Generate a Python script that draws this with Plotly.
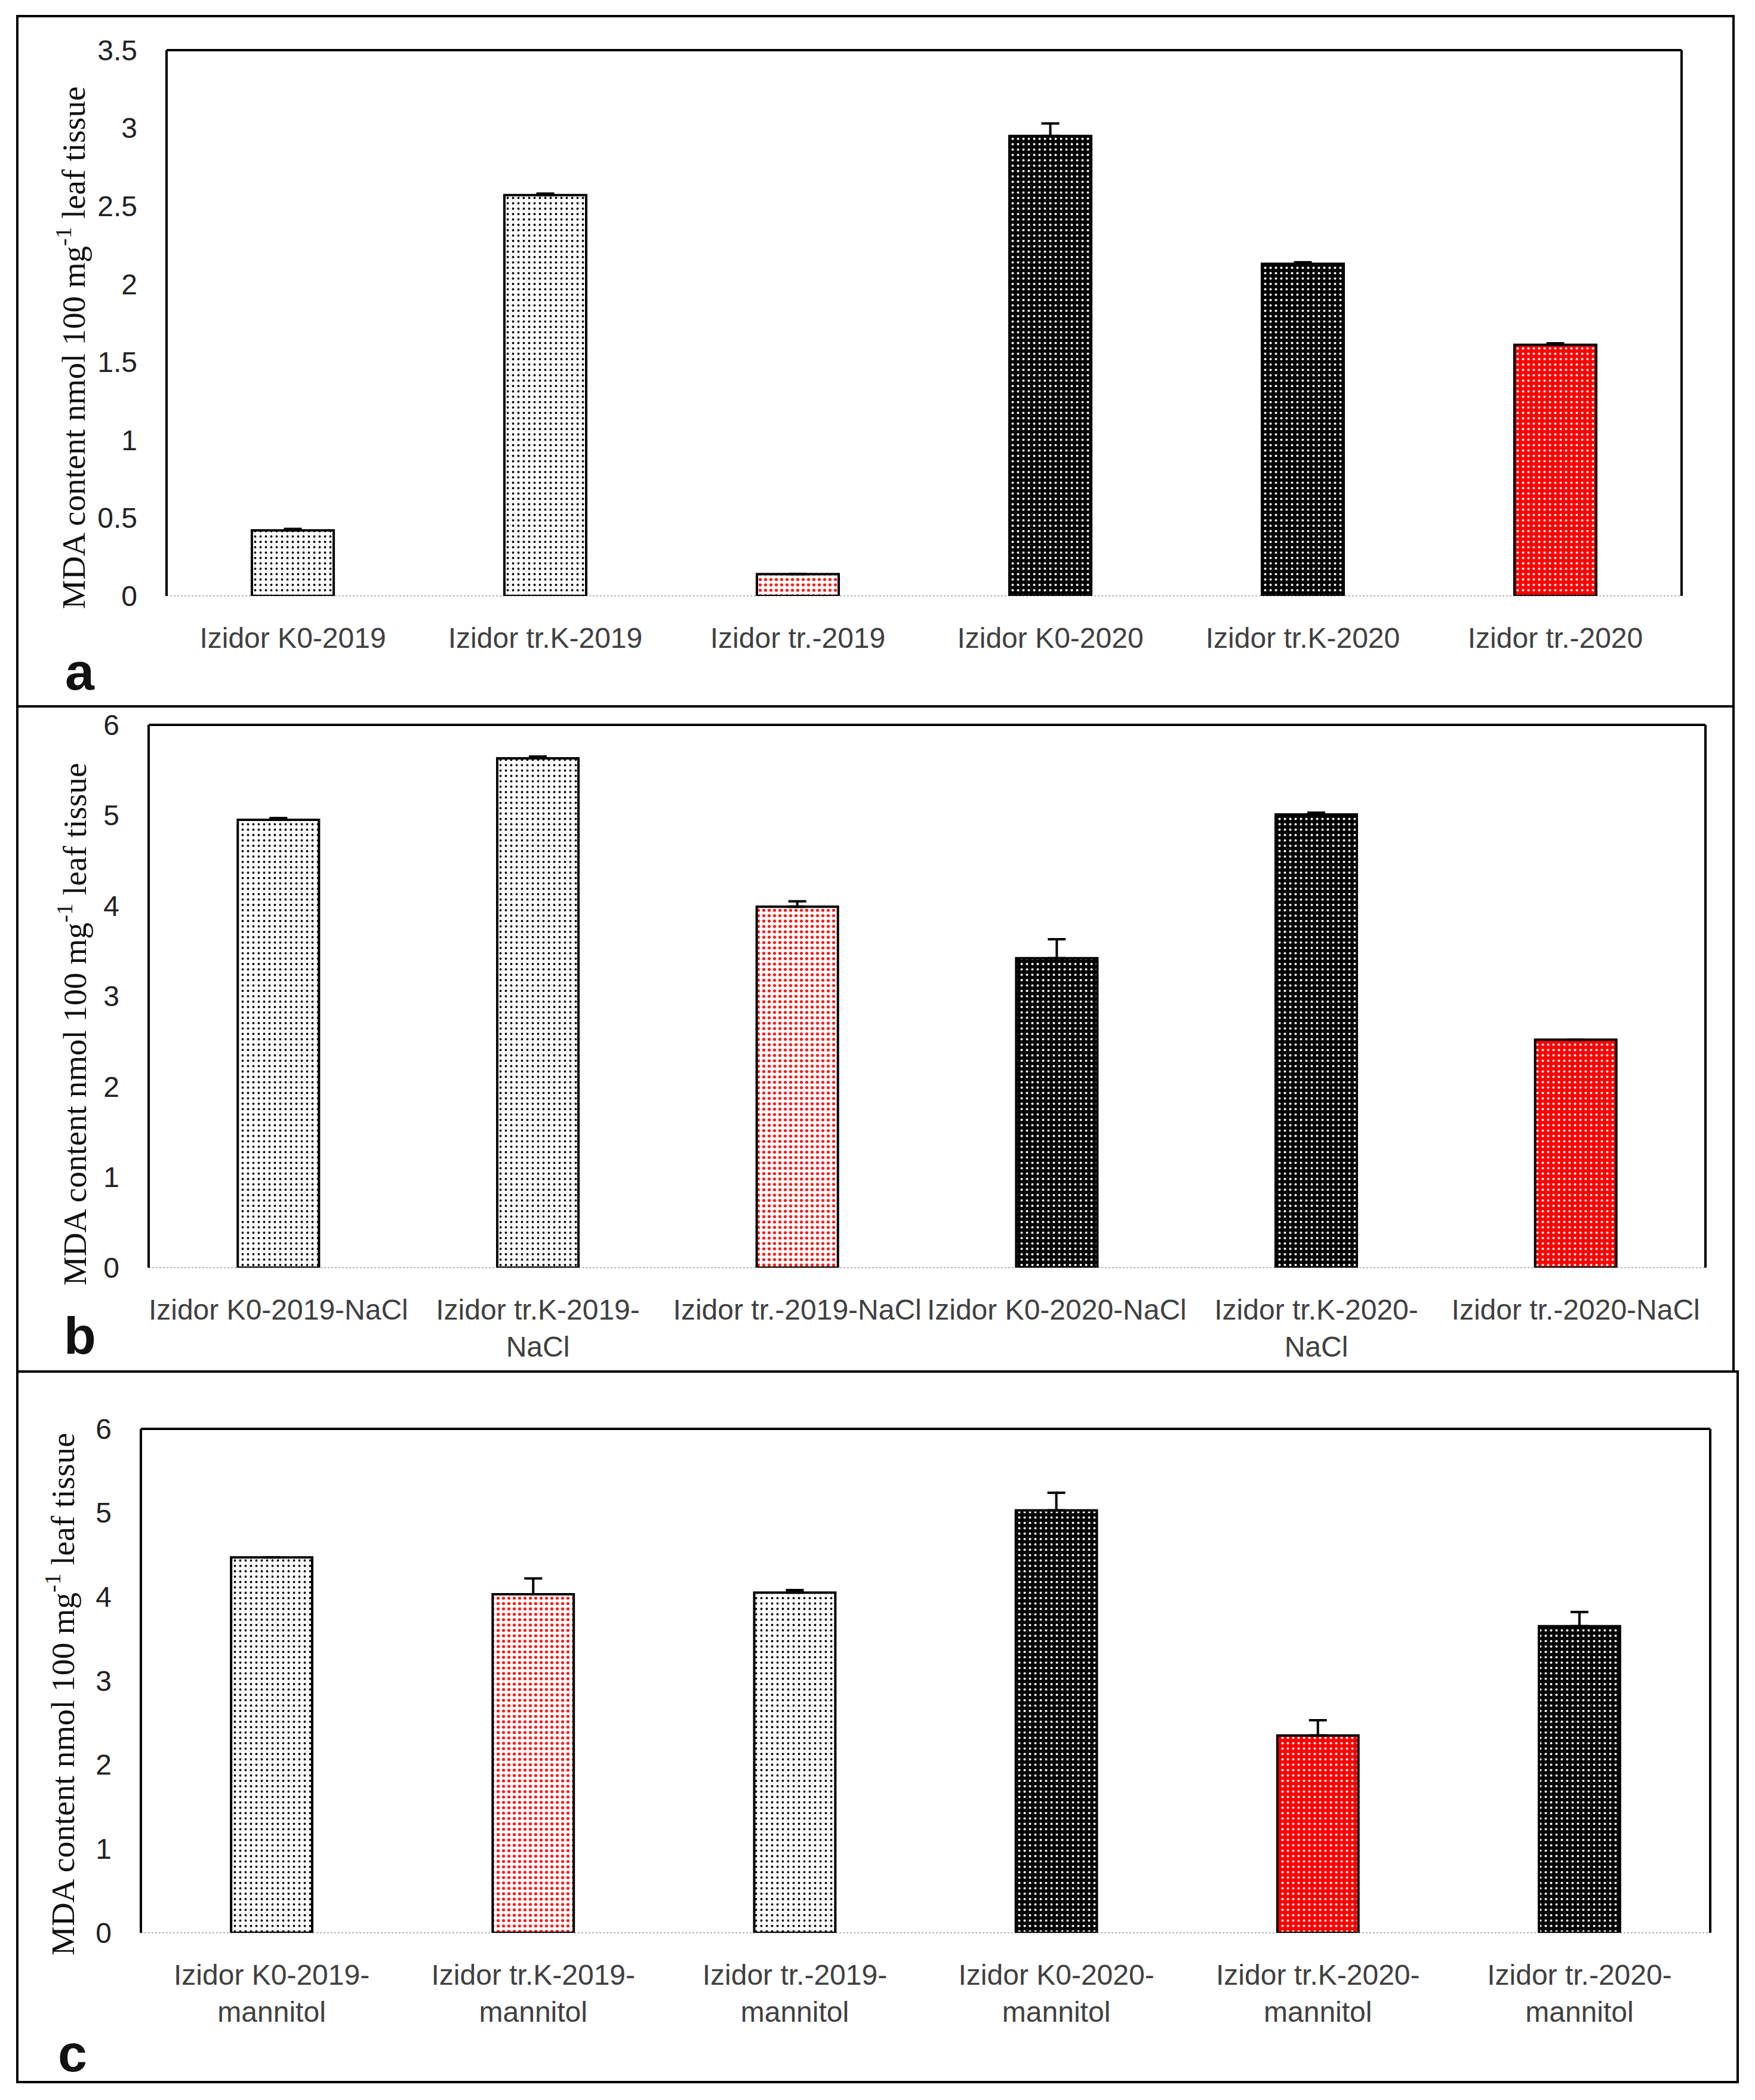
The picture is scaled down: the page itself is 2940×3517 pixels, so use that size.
import plotly.graph_objects as go

W, H = 2940, 3517

# ---------------- data ----------------
cats_a = ["Izidor K0-2019", "Izidor tr.K-2019", "Izidor tr.-2019",
          "Izidor K0-2020", "Izidor tr.K-2020", "Izidor tr.-2020"]
vals_a = [0.42, 2.57, 0.14, 2.95, 2.13, 1.61]
err_a = [0.01, 0.01, 0.0, 0.08, 0.01, 0.01]
fill_a = ["L", "L", "LR", "D", "D", "DR"]

cats_b = ["Izidor K0-2019-NaCl", "Izidor tr.K-2019-<br>NaCl", "Izidor tr.-2019-NaCl",
          "Izidor K0-2020-NaCl", "Izidor tr.K-2020-<br>NaCl", "Izidor tr.-2020-NaCl"]
vals_b = [4.95, 5.63, 3.99, 3.42, 5.01, 2.52]
err_b = [0.02, 0.02, 0.06, 0.21, 0.02, 0.0]
fill_b = ["L", "L", "LR", "D", "D", "DR"]

cats_c = ["Izidor K0-2019-<br>mannitol", "Izidor tr.K-2019-<br>mannitol", "Izidor tr.-2019-<br>mannitol",
          "Izidor K0-2020-<br>mannitol", "Izidor tr.K-2020-<br>mannitol", "Izidor tr.-2020-<br>mannitol"]
vals_c = [4.47, 4.03, 4.05, 5.03, 2.35, 3.65]
err_c = [0.0, 0.19, 0.03, 0.21, 0.18, 0.17]
fill_c = ["L", "LR", "L", "D", "DR", "D"]

y_title = "MDA content nmol 100 mg<sup>-1</sup> leaf tissue"
panel_letters = ["a", "b", "c"]

# ---------------- styles ----------------
STY = {
    "L": dict(bg="#ffffff", fg="#000000", sol=0.14),
    "LR": dict(bg="#ffffff", fg="#ff1a1a", sol=0.26),
    "D": dict(bg="#000000", fg="#ffffff", sol=0.16),
    "DR": dict(bg="#ff0000", fg="#ffffff", sol=0.16),
}

def px_x(v):
    return v / W

def px_y(v):
    return 1 - v / H

panels = [
    dict(cats=cats_a, vals=vals_a, err=err_a, fill=fill_a, rng=[0, 3.5], dtick=0.5,
         plot=(279, 84, 2817, 998), outer=(29, 27, 2904, 1183), width=0.324,
         ytitle=(119, 583), letter=(134, 1125)),
    dict(cats=cats_b, vals=vals_b, err=err_b, fill=fill_b, rng=[0, 6], dtick=1,
         plot=(249, 1214, 2857, 2123), outer=(29, 1183, 2904, 2297), width=0.313,
         ytitle=(121, 1716), letter=(134, 2236)),
    dict(cats=cats_c, vals=vals_c, err=err_c, fill=fill_c, rng=[0, 6], dtick=1,
         plot=(236, 2393, 2865, 3237), outer=(29, 2297, 2911, 3487), width=0.31,
         ytitle=(101, 2838), letter=(121, 3438)),
]

fig = go.Figure()
shapes = []
annotations = []
layout_axes = {}

for i, p in enumerate(panels):
    n = "" if i == 0 else str(i + 1)
    xa, ya = "x" + n, "y" + n
    for cat, val, e, f in zip(p["cats"], p["vals"], p["err"], p["fill"]):
        s = STY[f]
        fig.add_trace(go.Bar(
            x=[cat], y=[val], xaxis=xa, yaxis=ya, width=p["width"],
            marker=dict(color=s["bg"], line=dict(color="#000000", width=4),
                        pattern=dict(shape=".", fillmode="overlay", bgcolor=s["bg"],
                                     fgcolor=s["fg"], fgopacity=1, size=9, solidity=s["sol"])),
            error_y=dict(type="data", symmetric=False, array=[e], arrayminus=[0],
                         visible=True, color="#000000", thickness=4, width=15),
            showlegend=False, hoverinfo="x+y",
        ))
    x0, y0, x1, y1 = p["plot"]
    layout_axes["xaxis" + n] = dict(
        domain=[px_x(x0), px_x(x1)], anchor=ya, type="category",
        categoryorder="array", categoryarray=p["cats"],
        showgrid=False, zeroline=False, showline=False, ticks="",
        tickangle=0, ticklabelstandoff=38, automargin=False,
        tickfont=dict(family="Liberation Sans", size=48, color="#404040"),
    )
    layout_axes["yaxis" + n] = dict(
        domain=[px_y(y1), px_y(y0)], anchor=xa, range=p["rng"], dtick=p["dtick"],
        showgrid=False, zeroline=False, showline=False, ticks="",
        ticklabelstandoff=48, automargin=False,
        tickfont=dict(family="Liberation Sans", size=48, color="#222222"),
    )
    xd, yd = xa + " domain", ya + " domain"
    for (a0, b0, a1, b1) in [(0, 0, 0, 1), (0, 1, 1, 1), (1, 0, 1, 1)]:
        shapes.append(dict(type="line", xref=xd, yref=yd, x0=a0, y0=b0, x1=a1, y1=b1,
                           line=dict(color="#000000", width=4), layer="above"))
    shapes.append(dict(type="line", xref=xd, yref=yd, x0=0, y0=0, x1=1, y1=0,
                       line=dict(color="#b5b5b5", width=2, dash="dot"), layer="below"))
    ox0, oy0, ox1, oy1 = p["outer"]
    shapes.append(dict(type="rect", xref="paper", yref="paper",
                       x0=px_x(ox0), y0=px_y(oy1), x1=px_x(ox1), y1=px_y(oy0),
                       line=dict(color="#000000", width=4)))
    tx, ty = p["ytitle"]
    annotations.append(dict(text=y_title, xref="paper", yref="paper", x=px_x(tx), y=px_y(ty),
                            xanchor="center", yanchor="middle", textangle=-90, showarrow=False,
                            font=dict(family="Liberation Serif", size=55, color="#111111")))
    lx, ly = p["letter"]
    annotations.append(dict(text="<b>" + panel_letters[i] + "</b>", xref="paper", yref="paper",
                            x=px_x(lx), y=px_y(ly), xanchor="center", yanchor="middle",
                            showarrow=False,
                            font=dict(family="Liberation Sans", size=88, color="#111111")))

fig.update_layout(
    width=W, height=H, margin=dict(l=0, r=0, t=0, b=0, pad=0),
    paper_bgcolor="white", plot_bgcolor="white", barmode="overlay",
    shapes=shapes, annotations=annotations, **layout_axes,
)

fig.write_html("out.html", config={"displayModeBar": False},
               post_script="document.body.style.margin='0px';")
